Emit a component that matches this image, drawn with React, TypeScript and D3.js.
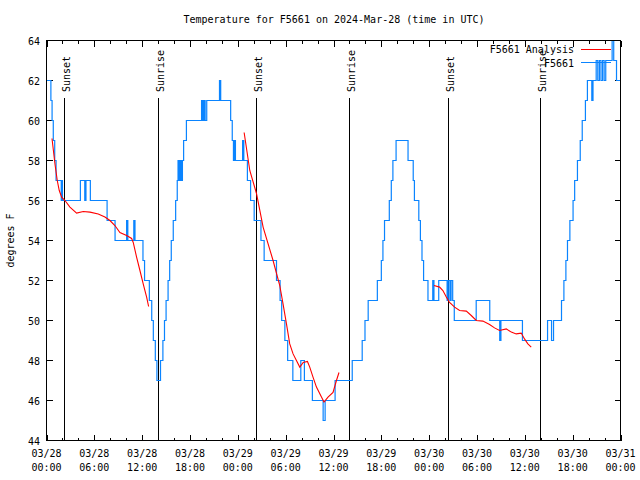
import React from 'react';
import * as d3 from 'd3';

// chart text
const title = 'Temperature for F5661 on 2024-Mar-28 (time in UTC)';
const yLabel = 'degrees F';

// x axis: hours since 03/28 00:00 UTC
const xTickHours = [0, 6, 12, 18, 24, 30, 36, 42, 48, 54, 60, 66, 72];
const xTickDates = ['03/28', '03/28', '03/28', '03/28', '03/29', '03/29', '03/29', '03/29', '03/30', '03/30', '03/30', '03/30', '03/31'];
const xTickTimes = ['00:00', '06:00', '12:00', '18:00', '00:00', '06:00', '12:00', '18:00', '00:00', '06:00', '12:00', '18:00', '00:00'];
const yTicks = [44, 46, 48, 50, 52, 54, 56, 58, 60, 62, 64];

// sunrise / sunset markers
const sunEvents = ['Sunset', 'Sunrise', 'Sunset', 'Sunrise', 'Sunset', 'Sunrise'];
const sunHours = [2.25, 14.0, 26.3, 37.95, 50.35, 61.9];

const legendNames = ['F5661 Analysis', 'F5661'];

// station observations [hour, degF], held until the next reading
const observed: [number, number][] = [
  [0, 62], [0.55, 61], [0.7, 60], [0.85, 59], [1.03, 58], [1.2, 57], [1.85, 56], [1.92, 57], [2.0, 56],
  [4.25, 57], [4.8, 56], [4.95, 57], [5.5, 56], [7.6, 55], [8.6, 54], [10.05, 55], [10.2, 54], [10.95, 55], [11.1, 54],
  [12.1, 53], [12.3, 52], [12.9, 51], [13.2, 50], [13.4, 49], [13.65, 48], [13.85, 47], [14.3, 48], [14.6, 49],
  [14.8, 50], [15.0, 51], [15.25, 52], [15.45, 53], [15.65, 54], [15.9, 55], [16.2, 56], [16.4, 57], [16.5, 58],
  [16.65, 57], [16.8, 58], [16.95, 57], [17.05, 58], [17.2, 59], [17.55, 60], [19.45, 61], [19.6, 60], [19.75, 61],
  [19.9, 60], [20.1, 61], [21.7, 62], [21.85, 61], [23.1, 60], [23.3, 59], [23.45, 58], [23.55, 59], [23.7, 58],
  [24.6, 59], [24.75, 58], [25.2, 57], [25.6, 56], [26.05, 55], [26.9, 54], [27.3, 53], [28.85, 52], [29.3, 51],
  [29.5, 50], [29.9, 49], [30.25, 48], [30.9, 47], [31.9, 48], [32.35, 47], [33.35, 46], [34.7, 45], [34.95, 46],
  [36.2, 47], [38.35, 48], [39.6, 49], [39.95, 50], [40.35, 51], [41.5, 52], [42.0, 53], [42.2, 54], [42.4, 55],
  [43.0, 56], [43.25, 57], [43.45, 58], [43.85, 59], [45.35, 58], [46.0, 57], [46.15, 56], [46.7, 55], [46.9, 54],
  [47.1, 53], [47.3, 52], [47.85, 51], [48.45, 52], [48.6, 51], [49.2, 52], [50.25, 51], [50.4, 52], [50.6, 51],
  [50.75, 52], [50.95, 51], [51.15, 50], [53.9, 51], [55.6, 50], [56.85, 49], [57.0, 50], [59.7, 49], [62.85, 50],
  [63.35, 49], [63.6, 50], [64.6, 51], [64.9, 52], [65.15, 53], [65.35, 54], [65.65, 55], [66.05, 56], [66.25, 57],
  [66.6, 58], [66.95, 59], [67.2, 60], [67.6, 61], [67.85, 62], [68.4, 61], [68.55, 62], [68.95, 63], [69.15, 62],
  [69.35, 63], [69.55, 62], [69.75, 63], [69.95, 62], [70.15, 63], [70.95, 64], [71.15, 63], [71.5, 62], [72, 62],
];

// analysis runs, one per night
const analysisNight1: [number, number][] = [
  [0.69, 59.1], [1.07, 57.8], [1.35, 57.0], [1.6, 56.5], [1.9, 56.17], [2.32, 56.0], [2.94, 55.67], [3.78, 55.37],
  [4.61, 55.45], [5.45, 55.42], [6.49, 55.33], [7.33, 55.17], [7.96, 55.0], [8.58, 54.75], [9.21, 54.4],
  [10.05, 54.25], [10.68, 54.1], [10.88, 53.9], [11.3, 53.17], [11.72, 52.5], [12.13, 51.83], [12.56, 51.17], [12.81, 50.7],
];
const analysisNight2: [number, number][] = [
  [24.79, 59.4], [25.5, 57.5], [26.34, 56.35], [27.17, 54.67], [28.42, 53.0], [29.26, 51.75], [29.67, 50.83],
  [30.1, 49.83], [30.51, 48.83], [30.93, 48.33], [31.35, 48.0], [31.77, 47.67], [32.2, 47.9], [32.73, 47.95],
  [33.02, 47.67], [33.43, 47.17], [33.86, 46.67], [34.49, 46.17], [34.81, 45.92], [35.31, 46.17], [35.94, 46.4],
  [36.37, 47.0], [36.69, 47.4],
];
const analysisNight3: [number, number][] = [
  [48.6, 51.75], [49.31, 51.67], [49.72, 51.5], [50.15, 51.17], [50.56, 50.9], [51.19, 50.67], [51.82, 50.5],
  [52.66, 50.47], [53.28, 50.25], [53.91, 50.0], [54.74, 49.97], [55.58, 49.8], [56.2, 49.63], [56.83, 49.5],
  [57.67, 49.58], [58.3, 49.42], [58.92, 49.33], [59.55, 49.37], [59.96, 49.08], [60.38, 48.83], [60.8, 48.67],
];

const W = 640;
const H = 480;
const FONT = '"DejaVu Sans Mono", "Liberation Mono", monospace';
const BLUE = '#0a84ff';
const RED = '#ff0000';

export default function App() {
  const x = d3.scaleLinear().domain([0, 72]).range([46.5, 620.5]);
  const y = d3.scaleLinear().domain([44, 64]).range([440.5, 40.5]);

  const stepLine = d3
    .line<[number, number]>()
    .x((d) => x(d[0]))
    .y((d) => y(d[1]))
    .curve(d3.curveStepAfter);

  const smoothLine = d3
    .line<[number, number]>()
    .x((d) => x(d[0]))
    .y((d) => y(d[1]));

  const minorHours = d3.range(0, 73, 2).filter((h) => h % 6 !== 0);
  const [x0, x1] = x.range();
  const [y0, y1] = y.range();

  return (
    <div style={{position: 'absolute', left: 0, top: 0}}>
      <svg width={W} height={H} style={{display: 'block', background: '#fff'}} fontFamily={FONT} fontSize={10}>
        <rect width={W} height={H} fill="#fff" />

        {/* title and y label */}
        <text x={334} y={23} textAnchor="middle">{title}</text>
        <text transform={`translate(14,${(y0 + y1) / 2}) rotate(-90)`} textAnchor="middle">{yLabel}</text>

        {/* ticks, inward and mirrored */}
        <g stroke="#000" shapeRendering="crispEdges">
          {xTickHours.map((h, i) => (
            <g key={'xt' + i}>
              <line x1={Math.round(x(h)) + 0.5} x2={Math.round(x(h)) + 0.5} y1={y0} y2={y0 - 6} />
              <line x1={Math.round(x(h)) + 0.5} x2={Math.round(x(h)) + 0.5} y1={y1} y2={y1 + 6} />
            </g>
          ))}
          {minorHours.map((h, i) => (
            <g key={'xm' + i}>
              <line x1={Math.round(x(h)) + 0.5} x2={Math.round(x(h)) + 0.5} y1={y0} y2={y0 - 3} />
              <line x1={Math.round(x(h)) + 0.5} x2={Math.round(x(h)) + 0.5} y1={y1} y2={y1 + 3} />
            </g>
          ))}
          {yTicks.map((t, i) => (
            <g key={'yt' + i}>
              <line x1={x0} x2={x0 + 6} y1={y(t)} y2={y(t)} />
              <line x1={x1} x2={x1 - 6} y1={y(t)} y2={y(t)} />
            </g>
          ))}
        </g>

        {/* tick labels */}
        {yTicks.map((t, i) => (
          <text key={'yl' + i} x={40} y={y(t) + 4} textAnchor="end">{t}</text>
        ))}
        {xTickHours.map((h, i) => (
          <g key={'xl' + i}>
            <text x={x(h)} y={457} textAnchor="middle">{xTickDates[i]}</text>
            <text x={x(h)} y={471} textAnchor="middle">{xTickTimes[i]}</text>
          </g>
        ))}

        {/* sunrise / sunset */}
        {sunHours.map((h, i) => {
          const sx = Math.round(x(h)) + 0.5;
          return (
            <g key={'sun' + i}>
              <line x1={sx} x2={sx} y1={98} y2={y0} stroke="#000" shapeRendering="crispEdges" />
              <text transform={`translate(${sx + 5},92) rotate(-90)`} textAnchor="start">{sunEvents[i]}</text>
            </g>
          );
        })}

        {/* data */}
        <g fill="none">
          <path d={stepLine(observed) || ''} stroke={BLUE} strokeWidth={1.2} />
          {[analysisNight1, analysisNight2, analysisNight3].map((s, i) => (
            <path key={'an' + i} d={smoothLine(s) || ''} stroke={RED} strokeWidth={1.1} />
          ))}
        </g>

        {/* legend */}
        <g>
          <text x={574} y={53} textAnchor="end">{legendNames[0]}</text>
          <line x1={581} x2={611} y1={49.5} y2={49.5} stroke={RED} shapeRendering="crispEdges" />
          <text x={574} y={67} textAnchor="end">{legendNames[1]}</text>
          <line x1={581} x2={611} y1={62.5} y2={62.5} stroke={BLUE} shapeRendering="crispEdges" />
        </g>

        {/* frame */}
        <rect x={x0} y={y1} width={x1 - x0} height={y0 - y1} fill="none" stroke="#000" shapeRendering="crispEdges" />
      </svg>
    </div>
  );
}
